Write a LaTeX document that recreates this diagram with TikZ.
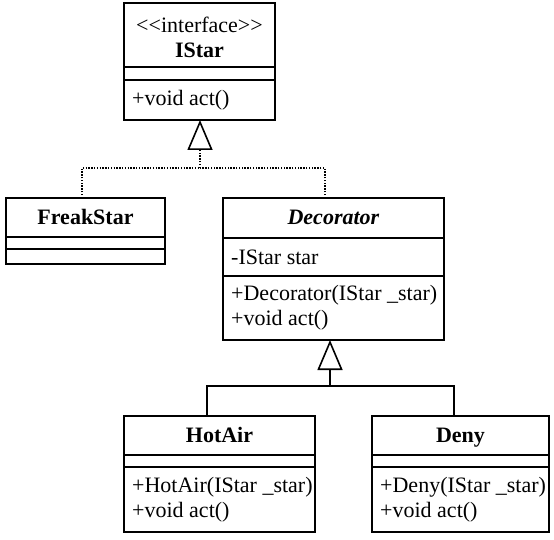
\documentclass[tikz,border=0pt]{standalone}
\usepackage{fontspec}
\setmainfont{Liberation Serif}
\usetikzlibrary{arrows.meta}
\begin{document}
\begin{tikzpicture}[x=1pt,y=-1pt,
  comp/.style={draw, line width=1.6pt, anchor=north west, inner sep=0pt, outer sep=0pt},
  txt/.style={inner sep=0pt, align=left, anchor=west, font=\fontsize{22}{25}\selectfont},
  ttl/.style={inner sep=0pt, align=center, font=\fontsize{22}{25}\selectfont},
  ttlone/.style={ttl, text height=16pt, text depth=2pt},
  dotline/.style={line width=1.4pt, dash pattern=on 1.4pt off 1.4pt},
  solidline/.style={line width=1.6pt},
  gen/.style={-{Triangle[open, length=30pt, width=25pt, line width=1.6pt]}},
]
\useasboundingbox (0,0) rectangle (554,540);
% IStar
\node[comp, minimum width=151pt, minimum height=64pt] (it) at (124,3) {};
\node[comp, minimum width=151pt, minimum height=13pt] (ia) at (124,67) {};
\node[comp, minimum width=151pt, minimum height=40pt] (im) at (124,80) {};
\node[ttl] (itt) at ([yshift=-2pt]it.center) {<\kern0pt<interface>\kern0pt>\\\textbf{IStar}};
\node[txt] (imt) at ([xshift=8pt]im.west) {+void act()};
% FreakStar
\node[comp, minimum width=159pt, minimum height=39pt] (ft) at (6,198) {};
\node[comp, minimum width=159pt, minimum height=12pt] (fa) at (6,237) {};
\node[comp, minimum width=159pt, minimum height=15pt] (fm) at (6,249) {};
\node[ttlone] (ftt) at (ft.center) {\textbf{FreakStar}};
% Decorator
\node[comp, minimum width=221pt, minimum height=40pt] (dt) at (223,198) {};
\node[comp, minimum width=221pt, minimum height=38pt] (da) at (223,238) {};
\node[comp, minimum width=221pt, minimum height=64pt] (dm) at (223,276) {};
\node[ttlone] (dtt) at (dt.center) {\textbf{\textit{Decorator}}};
\node[txt] (dat) at ([xshift=8pt]da.west) {-IStar star};
\node[txt] (dmt) at ([xshift=8pt]dm.west) {+Decorator(IStar \_star)\\+void act()};
% HotAir
\node[comp, minimum width=191pt, minimum height=39pt] (ht) at (124,416) {};
\node[comp, minimum width=191pt, minimum height=12pt] (ha) at (124,455) {};
\node[comp, minimum width=191pt, minimum height=65pt] (hm) at (124,467) {};
\node[ttlone] (htt) at (ht.center) {\textbf{HotAir}};
\node[txt] (hmt) at ([xshift=8pt]hm.west) {+HotAir(IStar \_star)\\+void act()};
% Deny
\node[comp, minimum width=177pt, minimum height=39pt] (nt) at (372,416) {};
\node[comp, minimum width=177pt, minimum height=12pt] (na) at (372,455) {};
\node[comp, minimum width=177pt, minimum height=65pt] (nm) at (372,467) {};
\node[ttlone] (ntt) at (nt.center) {\textbf{Deny}};
\node[txt] (nmt) at ([xshift=8pt]nm.west) {+Deny(IStar \_star)\\+void act()};
% realization connectors
\coordinate (j1) at (200,168);
\draw[dotline] ([xshift=-3.5pt]ft.north) |- (j1);
\draw[dotline] ([xshift=-8.5pt]dt.north) |- (j1);
\draw[dotline, gen] (j1) -- ([xshift=0.5pt]im.south);
% generalization connectors
\coordinate (j2) at (330,386);
\draw[solidline] ([xshift=-12.5pt]ht.north) |- (j2);
\draw[solidline] ([xshift=-6.5pt]nt.north) |- (j2);
\draw[solidline, gen] (j2) -- ([xshift=-3.5pt]dm.south);
\end{tikzpicture}
\end{document}
